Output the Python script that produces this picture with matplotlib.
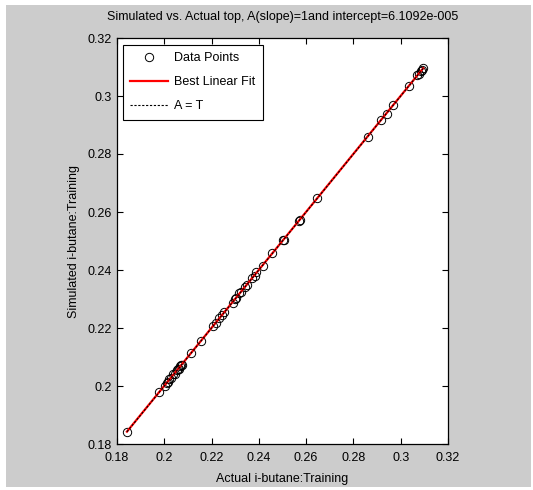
import numpy as np
import matplotlib.pyplot as plt
from matplotlib.patches import Rectangle

plt.rcParams['font.family'] = ['Liberation Sans', 'DejaVu Sans']

# actual (targets) and simulated (network outputs)
actual = [0.1842, 0.1977, 0.2002, 0.2010, 0.2015, 0.2022, 0.2030, 0.2038,
          0.2045, 0.2052, 0.2057, 0.2062, 0.2066, 0.2070, 0.2073, 0.2112,
          0.2157, 0.2206, 0.2218, 0.2232, 0.2246, 0.2252, 0.2289, 0.2297,
          0.2305, 0.2318, 0.2326, 0.2340, 0.2351, 0.2372, 0.2382, 0.2390,
          0.2417, 0.2455, 0.2500, 0.2506, 0.2568, 0.2572, 0.2648, 0.2862,
          0.2916, 0.2940, 0.2968, 0.3036, 0.3070, 0.3078, 0.3085, 0.3092,
          0.3095]
simulated = [0.1843, 0.1978, 0.2001, 0.2012, 0.2014, 0.2024, 0.2029, 0.2040,
             0.2043, 0.2054, 0.2058, 0.2060, 0.2068, 0.2071, 0.2072, 0.2114,
             0.2156, 0.2208, 0.2216, 0.2234, 0.2245, 0.2254, 0.2287, 0.2299,
             0.2303, 0.2320, 0.2325, 0.2342, 0.2349, 0.2374, 0.2380, 0.2392,
             0.2415, 0.2457, 0.2502, 0.2505, 0.2570, 0.2571, 0.2650, 0.2860,
             0.2918, 0.2938, 0.2970, 0.3034, 0.3072, 0.3076, 0.3087, 0.3090,
             0.3097]
slope = 1.0
intercept = 6.1092e-005
ticks = [0.18, 0.2, 0.22, 0.24, 0.26, 0.28, 0.3, 0.32]
tick_labels = ['0.18', '0.2', '0.22', '0.24', '0.26', '0.28', '0.3', '0.32']

gray = '#cccccc'
fs = 9
fig = plt.figure(figsize=(5.33, 4.90), dpi=100, facecolor='white')
fig.patches.append(Rectangle((6 / 533, 3 / 490), 525 / 533, 482 / 490,
                             transform=fig.transFigure, facecolor=gray,
                             edgecolor='none', zorder=-1))
ax = fig.add_axes([117 / 533, 46 / 490, 331 / 533, 406 / 490])

x = np.array(actual)
y = np.array(simulated)
xs = np.array([x.min(), x.max()])

ax.plot(x, y, 'o', mfc='none', mec='black', ms=6, mew=0.7, label='Data Points')
ax.plot(xs, slope * xs + intercept, color='red', lw=1.6, label='Best Linear Fit')
ax.plot(xs, xs, color='black', ls=(0, (2, 1.5)), lw=0.8, label='A = T')

ax.set_xlim(0.18, 0.32)
ax.set_ylim(0.18, 0.32)
ax.set_xticks(ticks)
ax.set_xticklabels(tick_labels)
ax.set_yticks(ticks)
ax.set_yticklabels(tick_labels)
ax.tick_params(direction='in', length=4, width=0.8, top=True, right=True,
               labelsize=fs, pad=4)
ax.tick_params(axis='x', pad=6)
for s in ax.spines.values():
    s.set_linewidth(0.9)

ax.set_title('Simulated vs. Actual top, A(slope)=1and intercept=6.1092e-005',
             fontsize=fs, pad=13)
ax.set_xlabel('Actual i-butane:Training', fontsize=fs, labelpad=6)
ax.set_ylabel('Simulated i-butane:Training', fontsize=fs, labelpad=5)

leg = ax.legend(loc='upper left', bbox_to_anchor=(0.018, 0.983), fontsize=fs,
                handlelength=3, handletextpad=0.5, labelspacing=0.95,
                borderpad=0.6, fancybox=False, framealpha=1,
                edgecolor='black', borderaxespad=0)
leg.get_frame().set_linewidth(0.8)

fig.savefig('out.png', dpi=100, facecolor=fig.get_facecolor())
